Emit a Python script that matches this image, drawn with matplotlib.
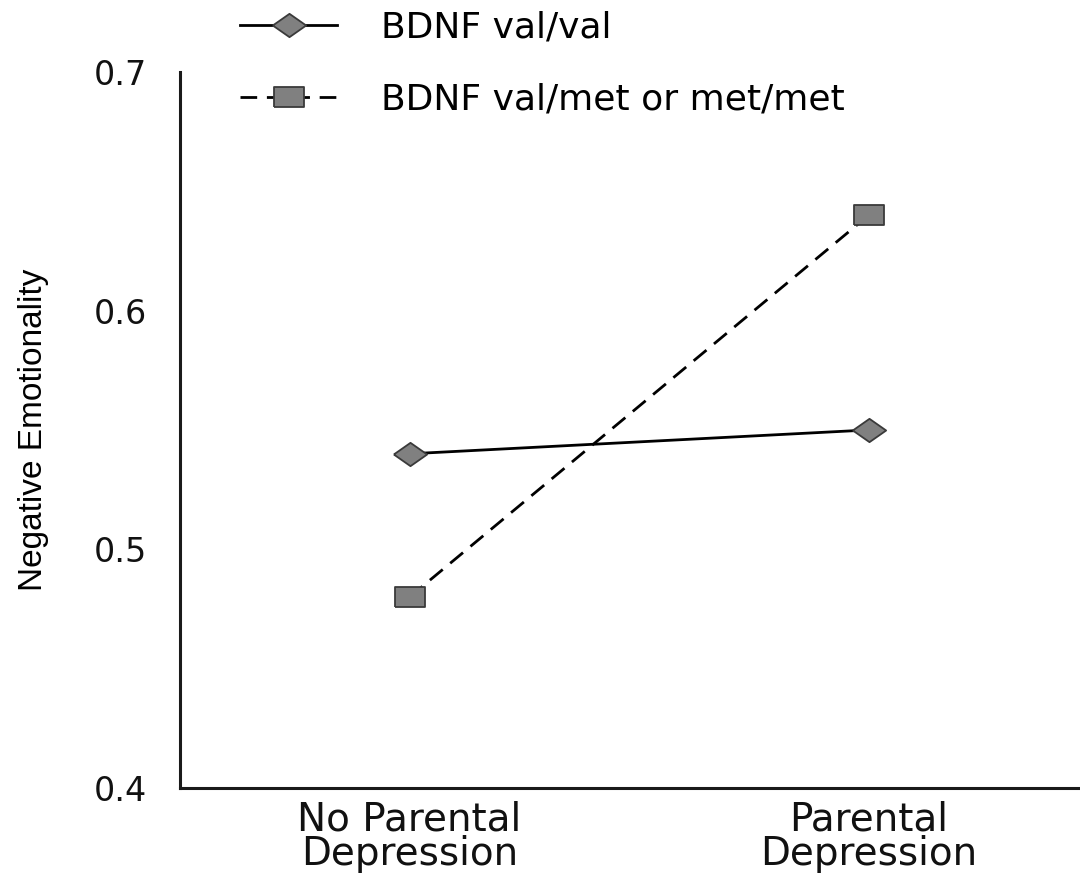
import matplotlib
matplotlib.use("Agg")
import matplotlib.pyplot as plt

# data
groups = ["No Parental\nDepression", "Parental\nDepression"]
val_val = [0.54, 0.55]
val_met = [0.48, 0.64]
series_labels = ["BDNF val/val", "BDNF val/met or met/met"]
yticks = [0.4, 0.5, 0.6, 0.7]

plt.rcParams["font.family"] = ["DejaVu Sans"]

diamond = [(-1, 0), (0, 0.7), (1, 0), (0, -0.7), (-1, 0)]
rect = [(-1, -0.69), (1, -0.69), (1, 0.69), (-1, 0.69), (-1, -0.69)]

fig = plt.figure(figsize=(10.8, 8.76), dpi=100)
ax = fig.add_axes([0.1667, 0.1005, 0.8333, 0.8174])

x = list(range(len(groups)))
ax.plot(x, val_val, color="black", lw=2, marker=diamond, ms=24,
        mfc="#808080", mec="#3a3a3a", mew=1.3, label=series_labels[0])
ax.plot(x, val_met, color="black", lw=2, ls=(0, (6, 3.5)), marker=rect, ms=21,
        mfc="#808080", mec="#3a3a3a", mew=1.3, label=series_labels[1])

ax.set_xlim(-0.5, 1.46)
ax.set_ylim(0.4, 0.7)
ax.set_xticks(x)
ax.set_xticklabels(groups, fontsize=28, linespacing=0.9, color="#111111")
ax.set_yticks(yticks)
ax.set_yticklabels([f"{v:.1f}" for v in yticks], fontsize=24, color="#111111")
ax.tick_params(axis="both", length=0)
ax.tick_params(axis="y", pad=24)
ax.tick_params(axis="x", pad=9)

for s in ["top", "right"]:
    ax.spines[s].set_visible(False)
for s in ["left", "bottom"]:
    ax.spines[s].set_linewidth(2.2)
    ax.spines[s].set_color("#1a1a1a")

ax.set_ylabel("Negative Emotionality", fontsize=24, labelpad=32,
              family=["Liberation Sans Narrow", "Liberation Sans", "DejaVu Sans"])

ax.legend(loc="upper left", bbox_to_anchor=(0.222, 0.988), bbox_transform=fig.transFigure,
          frameon=False, fontsize=26, handlelength=2.7, handletextpad=1.2,
          labelspacing=1.05, borderpad=0, borderaxespad=0)

fig.savefig("out.png", dpi=100)
